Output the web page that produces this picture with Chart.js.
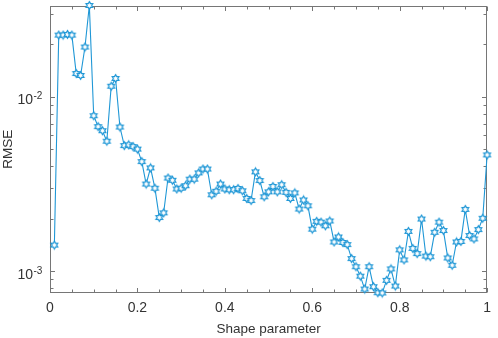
<!DOCTYPE html>
<html>
<head>
<meta charset="utf-8">
<script src="https://cdn.jsdelivr.net/npm/chart.js@4/dist/chart.umd.min.js"></script>
<style>
  html, body { margin: 0; padding: 0; background: #fff; }
  #chart { display: block; }
</style>
</head>
<body>
<canvas id="chart" width="498" height="338"></canvas>
<script>
// shape parameter (x) and RMSE (y, log axis)
const shapeParam = [
    0.01, 0.02, 0.03, 0.04, 0.05, 0.06, 0.07, 0.08, 0.09, 0.10,
    0.11, 0.12, 0.13, 0.14, 0.15, 0.16, 0.17, 0.18, 0.19, 0.20,
    0.21, 0.22, 0.23, 0.24, 0.25, 0.26, 0.27, 0.28, 0.29, 0.30,
    0.31, 0.32, 0.33, 0.34, 0.35, 0.36, 0.37, 0.38, 0.39, 0.40,
    0.41, 0.42, 0.43, 0.44, 0.45, 0.46, 0.47, 0.48, 0.49, 0.50,
    0.51, 0.52, 0.53, 0.54, 0.55, 0.56, 0.57, 0.58, 0.59, 0.60,
    0.61, 0.62, 0.63, 0.64, 0.65, 0.66, 0.67, 0.68, 0.69, 0.70,
    0.71, 0.72, 0.73, 0.74, 0.75, 0.76, 0.77, 0.78, 0.79, 0.80,
    0.81, 0.82, 0.83, 0.84, 0.85, 0.86, 0.87, 0.88, 0.89, 0.90,
    0.91, 0.92, 0.93, 0.94, 0.95, 0.96, 0.97, 0.98, 0.99, 1.00
];

const rmse = [
    0.00141, 0.0226, 0.0226, 0.0228, 0.0226, 0.0136, 0.01325, 0.0193, 0.0334, 0.00779,
    0.00674, 0.00639, 0.00556, 0.0115, 0.01274, 0.00671, 0.00525, 0.0053, 0.00518, 0.00501,
    0.00425, 0.00316, 0.00391, 0.00299, 0.00203, 0.00216, 0.00342, 0.00332, 0.00296, 0.00299,
    0.00309, 0.00337, 0.00337, 0.00366, 0.00385, 0.00385, 0.00274, 0.00287, 0.00316, 0.00296,
    0.00293, 0.00293, 0.00298, 0.00289, 0.00261, 0.00254, 0.00371, 0.00331, 0.00267, 0.00285,
    0.00306, 0.00285, 0.00313, 0.00283, 0.00261, 0.00281, 0.00227, 0.00256, 0.00237, 0.00174,
    0.00193, 0.00191, 0.00182, 0.00194, 0.00147, 0.00157, 0.00146, 0.00142, 0.00118, 0.00106,
    0.000936, 0.000789, 0.00106, 0.000814, 0.000752, 0.000749, 0.000885, 0.00103, 0.000821, 0.001325,
    0.00116, 0.00169, 0.00135, 0.00126, 0.00199, 0.00122, 0.00121, 0.00167, 0.00191, 0.00171,
    0.00119, 0.00108, 0.00147, 0.00148, 0.00226, 0.0016, 0.00153, 0.00173, 0.00201, 0.00464
];

const xTickValues = [0, 0.2, 0.4, 0.6, 0.8, 1];
const xTickLabels = ['0', '0.2', '0.4', '0.6', '0.8', '1'];
const yTickValues = [1e-3, 1e-2];
const yTickExponents = ['-3', '-2'];

const LINE = '#1f97d6';
const AXIS = '#767676';
const TEXT = '#333333';
const FONT = "'Liberation Sans', Arial, Helvetica, sans-serif";

// hexagram marker, white face
const makeHexagram = (r, color) => {
    const c = document.createElement('canvas');
    const s = Math.ceil(2 * r + 3);
    c.width = s;
    c.height = s;
    const g = c.getContext('2d');
    const ri = r / Math.sqrt(3);
    g.beginPath();
    for (let i = 0; i < 12; i++) {
        const a = -Math.PI / 2 + i * Math.PI / 6;
        const rr = i % 2 ? ri : r;
        const px = s / 2 + rr * Math.cos(a);
        const py = s / 2 + rr * Math.sin(a);
        i ? g.lineTo(px, py) : g.moveTo(px, py);
    }
    g.closePath();
    g.fillStyle = '#fff';
    g.fill();
    g.strokeStyle = color;
    g.lineWidth = 1.2;
    g.stroke();
    return c;
};

// box, inward ticks on all four sides, y labels as 10^n
const matlabAxes = {
    id: 'matlabAxes',
    beforeDatasetsDraw(chart) {
        const { ctx, chartArea: a, scales: { x, y } } = chart;
        const L = Math.round(a.left) + 0.5;
        const R = Math.round(a.right) - 0.5;
        const T = Math.round(a.top) + 0.5;
        const B = Math.round(a.bottom) - 0.5;

        ctx.save();
        ctx.strokeStyle = AXIS;
        ctx.lineWidth = 1;
        ctx.strokeRect(L, T, R - L, B - T);

        ctx.beginPath();
        for (let i = 0; i <= 20; i++) {
            const v = i * 0.05;
            const major = i % 4 === 0;
            const len = major ? 4.5 : 3;
            const px = Math.round(x.getPixelForValue(v)) + 0.5;
            ctx.moveTo(px, B); ctx.lineTo(px, B - len);
            ctx.moveTo(px, T); ctx.lineTo(px, T + len);
        }
        for (let e = -4; e <= -2; e++) {
            for (let m = 1; m <= 9; m++) {
                const v = m * Math.pow(10, e);
                if (v < y.min || v > y.max) continue;
                const len = m === 1 ? 4.5 : 3;
                const py = Math.round(y.getPixelForValue(v)) + 0.5;
                ctx.moveTo(L, py); ctx.lineTo(L + len, py);
                ctx.moveTo(R, py); ctx.lineTo(R - len, py);
            }
        }
        ctx.stroke();

        ctx.fillStyle = TEXT;
        yTickValues.forEach((v, i) => {
            const py = y.getPixelForValue(v);
            ctx.font = '14px ' + FONT;
            ctx.textAlign = 'right';
            ctx.textBaseline = 'alphabetic';
            ctx.fillText('10', 33, py + 7.5);
            ctx.font = '10px ' + FONT;
            ctx.textAlign = 'left';
            ctx.fillText(yTickExponents[i], 33.5, py + 2.5);
        });
        ctx.restore();
    }
};

const ctx = document.getElementById('chart').getContext('2d');

new Chart(ctx, {
    type: 'line',
    data: {
        datasets: [
            {
                label: 'RMSE',
                data: shapeParam.map((v, i) => ({ x: v, y: rmse[i] })),
                borderColor: LINE,
                borderWidth: 1.1,
                backgroundColor: LINE,
                pointStyle: makeHexagram(3.9, LINE),
                pointRadius: 4,
                tension: 0,
                fill: false,
                clip: false
            }
        ]
    },
    options: {
        responsive: false,
        animation: false,
        devicePixelRatio: 1,
        layout: { padding: { top: 5.5, right: 6, left: 0, bottom: 0 } },
        plugins: {
            legend: { display: false },
            tooltip: { enabled: false }
        },
        scales: {
            x: {
                type: 'linear',
                min: 0,
                max: 1,
                afterBuildTicks: s => { s.ticks = xTickValues.map(v => ({ value: v })); },
                afterFit: s => { s.height = 45; },
                grid: { display: false, drawTicks: false },
                border: { display: false },
                ticks: {
                    maxRotation: 0,
                    autoSkip: false,
                    padding: 7,
                    color: TEXT,
                    font: { family: FONT, size: 14 },
                    callback: (v, i) => xTickLabels[i]
                },
                title: {
                    display: true,
                    text: 'Shape parameter',
                    color: TEXT,
                    font: { family: FONT, size: 13.5 },
                    padding: { top: 0, bottom: 1 }
                }
            },
            y: {
                type: 'logarithmic',
                min: Math.min(...rmse),
                max: Math.max(...rmse),
                afterFit: s => { s.width = 50; },
                grid: { display: false, drawTicks: false },
                border: { display: false },
                ticks: { display: false },
                title: {
                    display: true,
                    text: 'RMSE',
                    color: TEXT,
                    font: { family: FONT, size: 13.5 },
                    padding: { top: 0, bottom: 0 }
                }
            }
        }
    },
    plugins: [matlabAxes]
});
</script>
</body>
</html>
